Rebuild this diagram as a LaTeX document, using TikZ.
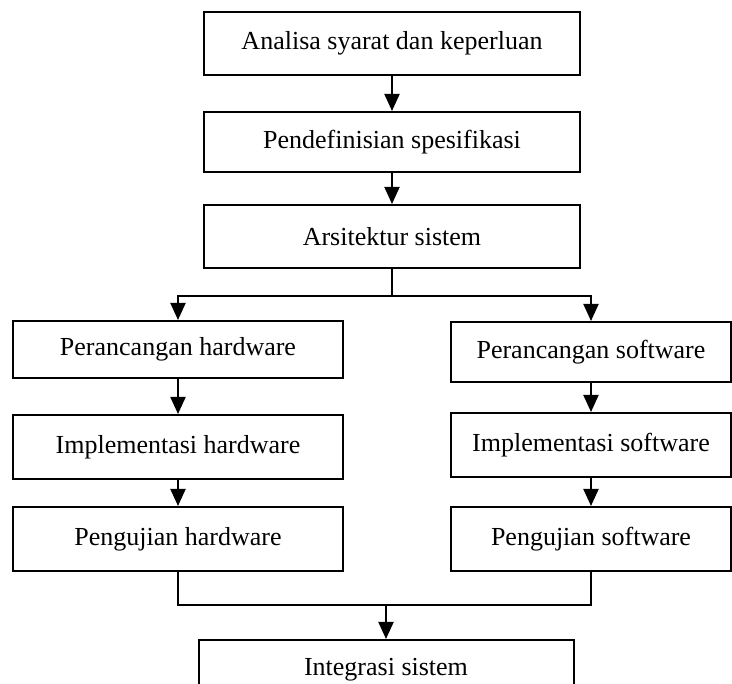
\documentclass[tikz,border=0pt]{standalone}
\usepackage{fontspec}
\setmainfont{Liberation Serif}
\usetikzlibrary{arrows.meta}
\begin{document}
\begin{tikzpicture}[x=1pt,y=-1pt,
  box/.style={draw=black,line width=2pt,inner sep=0pt,align=center,
    font=\fontsize{26}{30}\selectfont},
  arr/.style={draw=black,line width=2pt,-{Triangle[length=17pt,width=15pt]}},
  ln/.style={draw=black,line width=2pt}]
\fill[white] (0,0) rectangle (732,684);
\useasboundingbox (0,0) rectangle (732,684);
\node[box,minimum width=376pt,minimum height=63pt] (a1) at (392,43.5) {Analisa syarat dan keperluan};
\node[box,minimum width=376pt,minimum height=60pt] (a2) at (392,142) {Pendefinisian spesifikasi};
\node[box,minimum width=376pt,minimum height=63pt] (a3) at (392,236.5) {Arsitektur sistem};
\node[box,minimum width=330pt,minimum height=57pt] (h1) at (178,349.5) {Perancangan hardware};
\node[box,minimum width=330pt,minimum height=64pt] (h2) at (178,447) {Implementasi hardware};
\node[box,minimum width=330pt,minimum height=64pt] (h3) at (178,539) {Pengujian hardware};
\node[box,minimum width=280pt,minimum height=60pt] (s1) at (591,352) {Perancangan software};
\node[box,minimum width=280pt,minimum height=64pt] (s2) at (591,445) {Implementasi software};
\node[box,minimum width=280pt,minimum height=64pt] (s3) at (591,539) {Pengujian software};
\node[box,minimum width=375pt,minimum height=60pt] (int) at (386,670) {Integrasi sistem};
\coordinate (split) at (392,296);
\coordinate (join) at (386,605);
\draw[arr] (a1) -- (a2);
\draw[arr] (a2) -- (a3);
\draw[ln] (a3.south) -- (split);
\draw[arr] (split) -| (h1.north);
\draw[arr] (split) -| (s1.north);
\draw[arr] (h1) -- (h2);
\draw[arr] (h2) -- (h3);
\draw[arr] (s1) -- (s2);
\draw[arr] (s2) -- (s3);
\draw[ln] (h3.south) |- (join) -| (s3.south);
\draw[arr] (join) -- (int.north);
\end{tikzpicture}
\end{document}
